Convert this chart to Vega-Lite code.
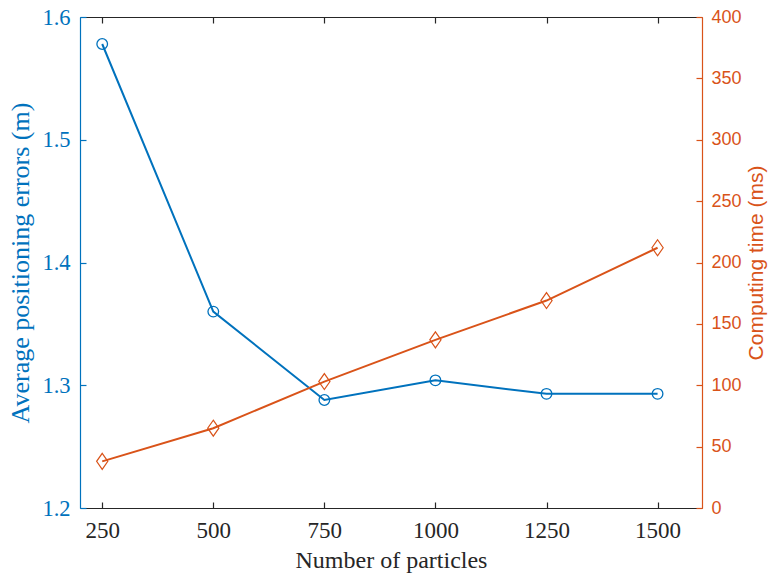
{
  "$schema": "https://vega.github.io/schema/vega-lite/v6.json",
  "width": 622,
  "height": 491,
  "autosize": "none",
  "padding": {"left": 80, "top": 17, "right": 74, "bottom": 69},
  "background": "white",
  "config": {"view": {"stroke": null}, "axis": {"grid": false}},
  "data": {
    "values": [
      {"n": 250, "err": 1.578, "time": 38},
      {"n": 500, "err": 1.36, "time": 65},
      {"n": 750, "err": 1.288, "time": 103},
      {"n": 1000, "err": 1.304, "time": 137},
      {"n": 1250, "err": 1.293, "time": 169},
      {"n": 1500, "err": 1.293, "time": 212}
    ]
  },
  "layer": [
    {
      "encoding": {
        "x": {
          "field": "n", "type": "quantitative",
          "scale": {"domain": [200, 1600], "nice": false, "zero": false},
          "axis": {
            "orient": "bottom", "values": [250, 500, 750, 1000, 1250, 1500], "format": "d",
            "title": "Number of particles", "titleFont": "Liberation Serif", "titleFontSize": 24,
            "titleFontWeight": "normal", "titleColor": "#262626", "titlePadding": 6,
            "labelFont": "Liberation Serif", "labelFontSize": 23, "labelColor": "#262626",
            "labelPadding": 17, "tickSize": -6, "tickColor": "#262626", "domainColor": "#262626",
            "domainWidth": 1.2, "tickWidth": 1.2
          }
        },
        "y": {
          "field": "err", "type": "quantitative",
          "scale": {"domain": [1.2, 1.6], "nice": false, "zero": false},
          "axis": {
            "orient": "left", "values": [1.2, 1.3, 1.4, 1.5, 1.6], "format": ".1f",
            "title": "Average positioning errors (m)", "titleFont": "Liberation Serif", "titleFontSize": 26,
            "titleFontWeight": "normal", "titleColor": "#0072BD", "titlePadding": 8,
            "labelFont": "Liberation Serif", "labelFontSize": 22.5, "labelColor": "#0072BD",
            "labelPadding": 16, "tickSize": -6, "tickColor": "#0072BD", "domainColor": "#0072BD",
            "domainWidth": 1.2, "tickWidth": 1.2
          }
        }
      },
      "layer": [
        {"mark": {"type": "line", "color": "#0072BD", "strokeWidth": 2}},
        {"mark": {"type": "point", "shape": "circle", "filled": false, "size": 113, "color": "#0072BD", "strokeWidth": 1.3, "opacity": 1}}
      ]
    },
    {
      "encoding": {
        "x": {
          "field": "n", "type": "quantitative",
          "scale": {"domain": [200, 1600], "nice": false, "zero": false},
          "axis": {
            "orient": "top", "values": [250, 500, 750, 1000, 1250, 1500],
            "title": null, "labels": false, "tickSize": -6, "tickColor": "#262626",
            "domainColor": "#262626", "domainWidth": 1.2, "tickWidth": 1.2
          }
        },
        "y": {
          "field": "time", "type": "quantitative",
          "scale": {"domain": [0, 400], "nice": false},
          "axis": {
            "orient": "right", "values": [0, 50, 100, 150, 200, 250, 300, 350, 400],
            "title": "Computing time (ms)", "titleFont": "Liberation Sans", "titleFontSize": 21,
            "titleFontWeight": "normal", "titleColor": "#D95319", "titlePadding": 4, "titleAngle": 270,
            "titleBaseline": "top",
            "labelFont": "Liberation Sans", "labelFontSize": 18, "labelColor": "#D95319",
            "labelPadding": 15, "tickSize": -6, "tickColor": "#D95319", "domainColor": "#D95319",
            "domainWidth": 1.2, "tickWidth": 1.2
          }
        }
      },
      "layer": [
        {"mark": {"type": "line", "color": "#D95319", "strokeWidth": 2}},
        {"mark": {"type": "point", "shape": "M0,-1L0.7,0L0,1L-0.7,0Z", "filled": false, "size": 256, "color": "#D95319", "strokeWidth": 1.2, "opacity": 1}}
      ]
    }
  ],
  "resolve": {"scale": {"y": "independent"}, "axis": {"x": "independent", "y": "independent"}}
}
